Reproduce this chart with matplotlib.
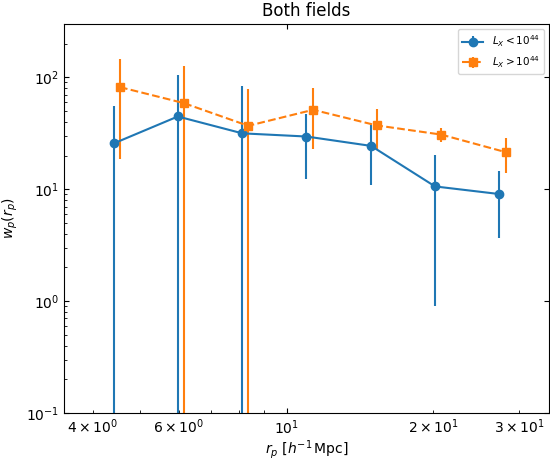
#!/usr/bin/env python3
# Projected correlation function, both fields
import matplotlib
matplotlib.use("Agg")
import matplotlib.pyplot as plt

rp_low = [4.42, 5.98, 8.11, 10.98, 14.9, 20.15, 27.3]
wp_low = [25.7, 44.7, 31.6, 29.6, 24.4, 10.6, 9.06]
err_low = [29.3, 61.0, 52.0, 17.2, 13.5, 9.7, 5.4]

rp_high = [4.55, 6.15, 8.34, 11.33, 15.3, 20.75, 28.2]
wp_high = [81.8, 58.9, 36.9, 51.3, 37.2, 30.8, 21.4]
err_high = [63.0, 67.0, 42.0, 28.5, 14.6, 4.4, 7.5]

fig = plt.figure(figsize=(5.5, 4.61), dpi=100)
ax = fig.add_axes([0.116, 0.104, 0.882, 0.844])
ax.errorbar(rp_low, wp_low, yerr=err_low, fmt="o-", color="C0",
            label=r"$L_X < 10^{44}$")
ax.errorbar(rp_high, wp_high, yerr=err_high, fmt="s--", color="C1",
            label=r"$L_X > 10^{44}$")
ax.set_xscale("log")
ax.set_yscale("log")
ax.set_xlim(3.49, 34.5)
ax.set_ylim(0.1, 300)
ax.tick_params(which="both", direction="in")
ax.tick_params(which="major", top=True, right=True)
ax.set_xlabel(r"$r_p$ [$h^{-1}\,$Mpc]", labelpad=1)
ax.set_ylabel(r"$w_p(r_p)$")
ax.set_title("Both fields")
ax.legend(loc="upper right", fontsize=7.5)
plt.savefig("out.png")
